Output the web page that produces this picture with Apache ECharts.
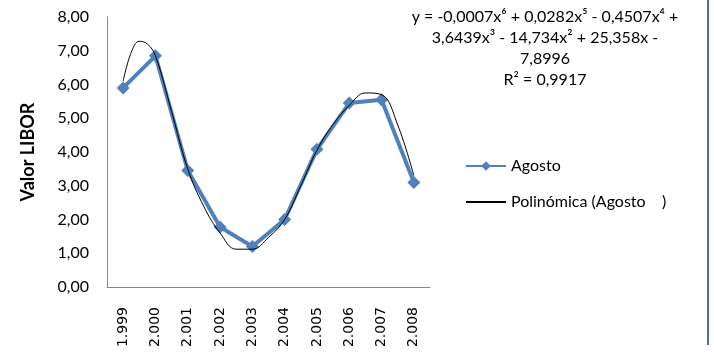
<!DOCTYPE html>
<html>
<head>
<meta charset="utf-8">
<script src="https://cdn.jsdelivr.net/npm/echarts@6/dist/echarts.min.js"></script>
<style>
    html, body { margin: 0; padding: 0; background: #fff; }
    #chart { width: 714px; height: 360px; }
</style>
</head>
<body>
<div id="chart"></div>
<script>
// years on the category axis
const years = ['1.999', '2.000', '2.001', '2.002', '2.003', '2.004', '2.005', '2.006', '2.007', '2.008']
// LIBOR value, August of each year
const agosto = [5.9, 6.85, 3.45, 1.78, 1.2, 2.0, 4.08, 5.45, 5.55, 3.1]
// polynomial trendline: [category position, value]
const trendX = [0, 0.25, 0.5, 0.75, 1, 1.5, 2, 2.5, 3, 3.5, 4, 4.5, 5, 5.5, 6, 6.5, 7, 7.5, 8, 8.5, 9]
const trendY = [6.1, 6.95, 7.28, 7.2, 6.85, 5.2, 3.5, 2.38, 1.6, 1.12, 1.12, 1.47, 2.0, 3.0, 4.05, 4.82, 5.38, 5.75, 5.7, 4.8, 3.3]
const yTicks = [0, 1, 2, 3, 4, 5, 6, 7, 8]

const chart = echarts.init(document.getElementById('chart'))
const fmt = v => v.toFixed(2).replace('.', ',')

chart.setOption({
    animation: false,
    grid: { left: 107, right: 284, top: 17, bottom: 73, outerBoundsMode: 'none', containLabel: false },
    legend: {
        orient: 'vertical',
        left: 460,
        top: 153,
        itemWidth: 40,
        itemHeight: 12,
        itemGap: 20,
        textStyle: { fontFamily: 'Lato', fontSize: 16, color: '#000' },
        data: [
            { name: 'Agosto' },
            { name: 'Polinómica (Agosto    )', itemStyle: { opacity: 0 } }
        ]
    },
    xAxis: [
        {
            type: 'category',
            data: years,
            boundaryGap: true,
            axisLine: { lineStyle: { color: '#868686', width: 1 } },
            axisTick: { show: false },
            axisLabel: {
                rotate: 90,
                margin: 20,
                fontFamily: 'DejaVu Sans',
                fontSize: 14,
                color: '#000',
                interval: 0
            }
        },
        {
            type: 'value',
            min: -0.5,
            max: 9.5,
            show: false
        }
    ],
    yAxis: {
        type: 'value',
        min: 0,
        max: 8,
        interval: 1,
        name: 'Valor LIBOR',
        nameLocation: 'middle',
        nameGap: 70,
        nameTextStyle: { fontFamily: 'Lato', fontWeight: 'bold', fontSize: 18, color: '#000' },
        axisLine: { show: true, onZero: false, lineStyle: { color: '#868686', width: 1 } },
        axisTick: { show: false },
        splitLine: { show: false },
        axisLabel: {
            fontFamily: 'Lato',
            fontSize: 16,
            color: '#000',
            margin: 18,
            formatter: v => yTicks.includes(v) ? fmt(v) : ''
        }
    },
    series: [
        {
            name: 'Polinómica (Agosto    )',
            type: 'line',
            xAxisIndex: 1,
            data: trendX.map((x, i) => [x, trendY[i]]),
            smooth: 0.4,
            showSymbol: false,
            symbol: 'none',
            lineStyle: { color: '#000', width: 1 },
            itemStyle: { color: '#000' },
            z: 3
        },
        {
            name: 'Agosto',
            type: 'line',
            data: agosto,
            symbol: 'diamond',
            symbolSize: 13,
            lineStyle: { color: '#4F81BD', width: 4 },
            itemStyle: { color: '#4F81BD' },
            z: 2
        }
    ],
    graphic: [
        {
            type: 'text',
            x: 545,
            y: 6,
            style: {
                text: 'y = -0,0007x⁶ + 0,0282x⁵ - 0,4507x⁴ +\n3,6439x³ - 14,734x² + 25,358x -\n7,8996\nR² = 0,9917',
                textAlign: 'center',
                fontFamily: 'Lato',
                fontSize: 16,
                lineHeight: 21,
                fill: '#000'
            }
        },
        {
            type: 'line',
            shape: { x1: 708, y1: 0, x2: 708, y2: 345 },
            style: { stroke: '#4F6FA8', lineWidth: 2 }
        }
    ]
})
</script>
</body>
</html>
